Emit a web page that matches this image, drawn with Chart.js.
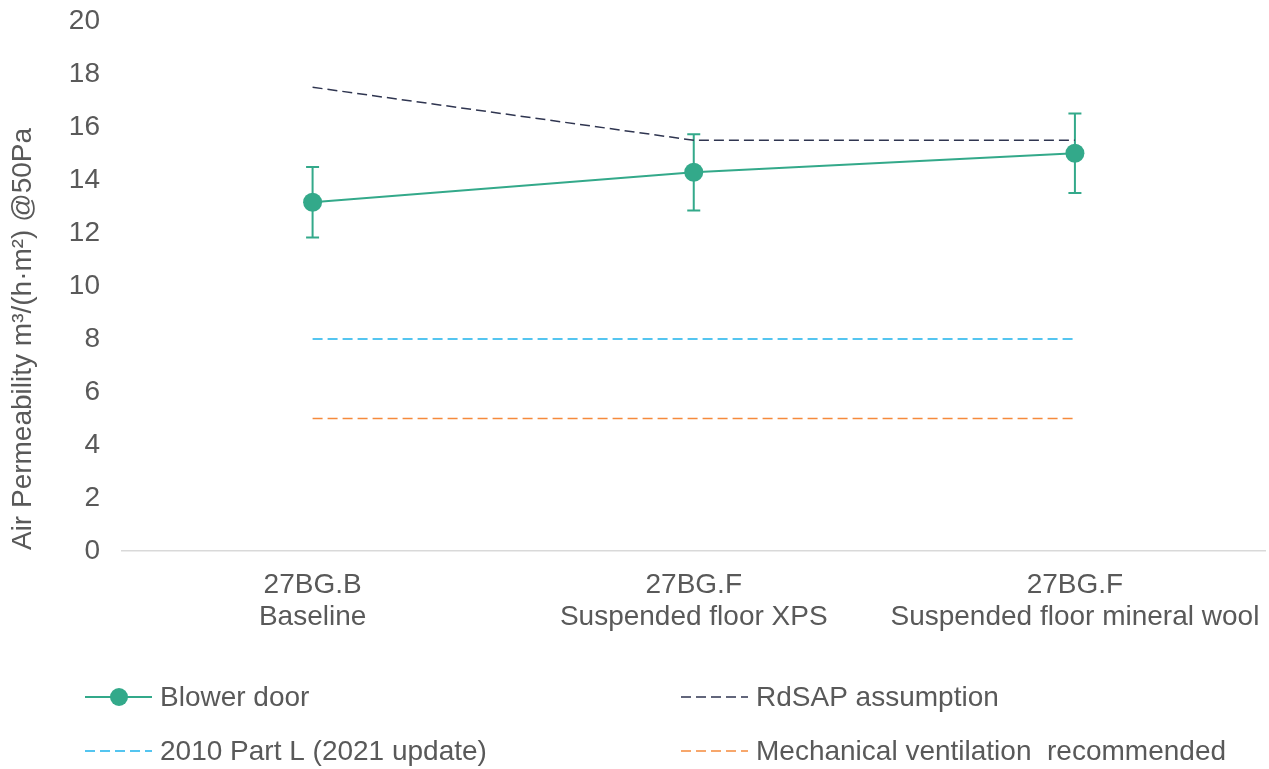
<!DOCTYPE html>
<html>
<head>
<meta charset="utf-8">
<title>Air permeability</title>
<script src="https://cdn.jsdelivr.net/npm/chart.js@4"></script>
<style>
  html, body { margin: 0; padding: 0; background: #fff; overflow: hidden; }
  #wrap { position: relative; width: 1269px; height: 769px; overflow: hidden; }
</style>
</head>
<body>
<div id="wrap"><canvas id="chart" width="1275" height="769"></canvas></div>
<script>
// Test cases
const categories = [
  ["27BG.B", "Baseline"],
  ["27BG.F", "Suspended floor XPS"],
  ["27BG.F", "Suspended floor mineral wool"]
];
// Measured air permeability and its uncertainty
const blowerDoor = [13.16, 14.29, 15.01];
const blowerDoorErr = [1.33, 1.44, 1.5];
// Reference levels
const rdsapAssumption = [17.5, 15.5, 15.5];
const partL2010 = [8, 8, 8];
const mechVentilation = [5, 5, 5];

const yTicks = { min: 0, max: 20, step: 2 };
const yTitle = "Air Permeability m\u00B3/(h\u00B7m\u00B2) @50Pa";

const FONT = "'Liberation Sans', Arial, sans-serif";
const TEXT = "#595959";
const TEAL = "#33a98a";
const NAVY = "#2f3550";
const BLUE = "#1cb2ec";
const ORANGE = "#f58a3c";

const legendItems = [
  { label: "Blower door", color: TEAL, dash: [], marker: true },
  { label: "RdSAP assumption", color: NAVY, dash: [10, 5] },
  { label: "2010 Part L (2021 update)", color: BLUE, dash: [10, 5] },
  { label: "Mechanical ventilation  recommended", color: ORANGE, dash: [10, 5] }
];

// Vertical error bars with caps for the blower door series
const errorBars = {
  id: "errorBars",
  beforeDatasetsDraw(chart) {
    const meta = chart.getDatasetMeta(3);
    const y = chart.scales.y;
    const ctx = chart.ctx;
    ctx.save();
    ctx.strokeStyle = TEAL;
    ctx.lineWidth = 2;
    meta.data.forEach((pt, i) => {
      const v = blowerDoor[i], e = blowerDoorErr[i];
      const top = y.getPixelForValue(v + e);
      const bot = y.getPixelForValue(v - e);
      ctx.beginPath();
      ctx.moveTo(pt.x, top); ctx.lineTo(pt.x, bot);
      ctx.moveTo(pt.x - 6.5, top); ctx.lineTo(pt.x + 6.5, top);
      ctx.moveTo(pt.x - 6.5, bot); ctx.lineTo(pt.x + 6.5, bot);
      ctx.stroke();
    });
    ctx.restore();
  }
};

// Rotated y-axis title
const yAxisTitle = {
  id: "yAxisTitle",
  afterDraw(chart) {
    const ctx = chart.ctx;
    ctx.save();
    ctx.translate(23, 339);
    ctx.rotate(-Math.PI / 2);
    ctx.font = "28px " + FONT;
    ctx.fillStyle = TEXT;
    ctx.textAlign = "center";
    ctx.textBaseline = "middle";
    ctx.fillText(yTitle, 0, 0);
    ctx.restore();
  }
};

// Two-column legend under the plot
const bottomLegend = {
  id: "bottomLegend",
  afterDraw(chart) {
    const ctx = chart.ctx;
    const cols = [85, 681];
    const rows = [697, 751];
    ctx.save();
    ctx.font = "28px " + FONT;
    ctx.textBaseline = "middle";
    ctx.textAlign = "left";
    legendItems.forEach((it, i) => {
      const x = cols[i % 2], y = rows[Math.floor(i / 2)];
      ctx.strokeStyle = it.color;
      ctx.lineWidth = it.marker ? 2 : 1.5;
      ctx.setLineDash(it.dash);
      ctx.beginPath();
      ctx.moveTo(x, y); ctx.lineTo(x + 67, y);
      ctx.stroke();
      ctx.setLineDash([]);
      if (it.marker) {
        ctx.fillStyle = it.color;
        ctx.beginPath();
        ctx.arc(x + 34, y, 9, 0, Math.PI * 2);
        ctx.fill();
      }
      ctx.fillStyle = TEXT;
      ctx.fillText(it.label, x + 75, y + 1);
    });
    ctx.restore();
  }
};

const refLine = (label, data, color) => ({
  label, data,
  borderColor: color,
  borderWidth: 1.5,
  borderDash: [10, 5],
  pointRadius: 0,
  fill: false,
  tension: 0
});

new Chart(document.getElementById("chart"), {
  type: "line",
  data: {
    labels: categories,
    datasets: [
      refLine("RdSAP assumption", rdsapAssumption, NAVY),
      refLine("2010 Part L (2021 update)", partL2010, BLUE),
      refLine("Mechanical ventilation  recommended", mechVentilation, ORANGE),
      {
        label: "Blower door",
        data: blowerDoor,
        borderColor: TEAL,
        backgroundColor: TEAL,
        borderWidth: 2,
        pointRadius: 9.5,
        pointBackgroundColor: TEAL,
        pointBorderWidth: 0,
        fill: false,
        tension: 0
      }
    ]
  },
  options: {
    responsive: false,
    animation: false,
    events: [],
    layout: { padding: { left: 0, right: 0, top: 21, bottom: 138 } },
    plugins: { legend: { display: false }, tooltip: { enabled: false } },
    scales: {
      x: {
        offset: true,
        grid: { display: false, drawTicks: false },
        border: { display: true, color: "#d9d9d9", width: 1.5 },
        ticks: {
          color: TEXT,
          font: { family: FONT, size: 28, lineHeight: 1.15 },
          padding: 18,
          maxRotation: 0,
          autoSkip: false
        },
        afterFit(scale) {
          scale.height = 80;
          scale.paddingLeft = 0;
          scale.paddingRight = 0;
        }
      },
      y: {
        min: yTicks.min,
        max: yTicks.max,
        grid: { display: false, drawTicks: false },
        border: { display: false },
        ticks: {
          stepSize: yTicks.step,
          color: TEXT,
          font: { family: FONT, size: 28 },
          padding: 22
        },
        afterFit(scale) {
          scale.width = 122;
          scale.paddingTop = 0;
          scale.paddingBottom = 0;
        }
      }
    }
  },
  plugins: [errorBars, yAxisTitle, bottomLegend]
});
</script>
</body>
</html>
